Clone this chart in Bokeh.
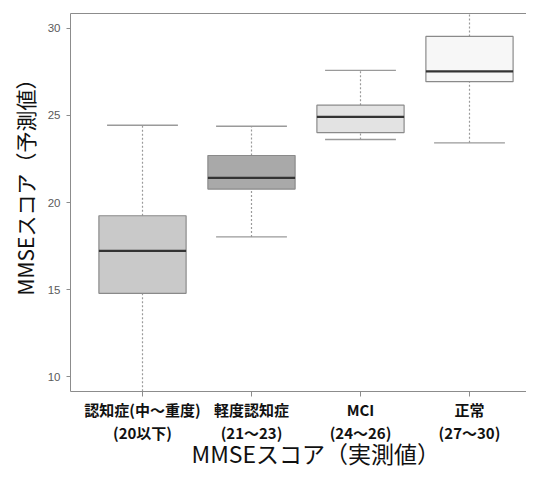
from bokeh.plotting import figure
from bokeh.models import (ColumnDataSource, Range1d, FixedTicker, LinearAxis, Title)
from bokeh.embed import file_html
from bokeh.resources import INLINE

# ---- data ----
categories = ["認知症(中～重度)", "軽度認知症", "MCI", "正常"]
score_ranges = ["(20以下)", "(21～23)", "(24～26)", "(27～30)"]
whisker_low = [8.0, 18.02, 23.62, 23.43]
q1 = [14.78, 20.77, 24.02, 26.94]
median = [17.22, 21.42, 24.92, 27.54]
q3 = [19.24, 22.70, 25.59, 29.54]
whisker_high = [24.44, 24.38, 27.59, 31.5]
box_colors = ["#c9c9c9", "#a9a9a9", "#e3e3e3", "#f7f7f7"]
y_ticks = [10, 15, 20, 25, 30]

xpos = list(range(1, len(categories) + 1))
box_w = 0.8
cap_w = 0.65

src = ColumnDataSource(dict(
    x=xpos,
    x0=[x - box_w / 2 for x in xpos], x1=[x + box_w / 2 for x in xpos],
    c0=[x - cap_w / 2 for x in xpos], c1=[x + cap_w / 2 for x in xpos],
    lo=whisker_low, q1=q1, med=median, q3=q3, hi=whisker_high, color=box_colors,
))

p = figure(width=526, height=470,
           x_range=Range1d(0.3394, 4.523), y_range=Range1d(9.14, 30.86),
           output_backend="svg", toolbar_location=None,
           x_axis_location=None, y_axis_location=None,
           min_border_left=70, min_border_right=0, min_border_top=13, min_border_bottom=79)
p.outline_line_color = None
p.grid.visible = False
p.background_fill_color = "white"
p.border_fill_color = "white"

axis_gray = "#8c8c8c"
cjk = "Noto Sans CJK JP"

# whiskers (dotted)
p.segment(x0="x", x1="x", y0="lo", y1="q1", source=src, line_color="#9a9a9a",
          line_width=1.2, line_dash="2 2")
p.segment(x0="x", x1="x", y0="q3", y1="hi", source=src, line_color="#9a9a9a",
          line_width=1.2, line_dash="2 2")
# caps
p.segment(x0="c0", x1="c1", y0="lo", y1="lo", source=src, line_color="#9a9a9a", line_width=1.3)
p.segment(x0="c0", x1="c1", y0="hi", y1="hi", source=src, line_color="#9a9a9a", line_width=1.3)
# boxes
p.vbar(x="x", width=box_w, bottom="q1", top="q3", source=src, fill_color="color",
       line_color="#8a8a8a", line_width=1.2)
# medians
p.segment(x0="x0", x1="x1", y0="med", y1="med", source=src, line_color="#333333", line_width=2.2)

# left axis
yax = LinearAxis(ticker=FixedTicker(ticks=y_ticks))
yax.axis_line_color = axis_gray
yax.major_tick_line_color = axis_gray
yax.major_tick_out = 4
yax.major_tick_in = 0
yax.minor_tick_line_color = None
yax.minor_tick_out = 0
yax.major_label_text_font = "Liberation Sans"
yax.major_label_text_font_size = "11.5px"
yax.major_label_text_color = "#5a5a5a"
yax.major_label_standoff = 6
p.add_layout(yax, "left")

# top line
tax = LinearAxis(ticker=FixedTicker(ticks=[]))
tax.axis_line_color = axis_gray
tax.major_tick_line_color = None
tax.minor_tick_line_color = None
tax.major_tick_out = 0
tax.minor_tick_out = 0
tax.major_label_text_font_size = "0px"
tax.major_label_standoff = 0
p.add_layout(tax, "above")

# bottom axis: line 1
xax = LinearAxis(ticker=FixedTicker(ticks=xpos))
xax.major_label_overrides = {x: c for x, c in zip(xpos, categories)}
xax.axis_line_color = axis_gray
xax.major_tick_line_color = axis_gray
xax.major_tick_out = 5
xax.major_tick_in = 0
xax.minor_tick_line_color = None
xax.minor_tick_out = 0
xax.major_label_text_font = cjk
xax.major_label_text_font_style = "bold"
xax.major_label_text_font_size = "15px"
xax.major_label_text_color = "#111111"
xax.major_label_standoff = 2
p.add_layout(xax, "below")

# bottom axis: line 2
xax2 = LinearAxis(ticker=FixedTicker(ticks=xpos))
xax2.major_label_overrides = {x: r for x, r in zip(xpos, score_ranges)}
xax2.axis_line_color = None
xax2.major_tick_line_color = None
xax2.minor_tick_line_color = None
xax2.major_tick_out = 0
xax2.major_tick_in = 0
xax2.minor_tick_out = 0
xax2.major_label_text_font = cjk
xax2.major_label_text_font_style = "bold"
xax2.major_label_text_font_size = "15px"
xax2.major_label_text_color = "#111111"
xax2.major_label_standoff = -1
p.add_layout(xax2, "below")

xt = Title(text="MMSEスコア（実測値）", align="left", offset=121,
           text_font=cjk, text_font_size="23px",
           text_font_style="normal", text_color="#111111", standoff=-24)
p.add_layout(xt, "below")

yt = Title(text="MMSEスコア（予測値）", align="left", offset=96,
           text_font=cjk, text_font_size="21px",
           text_font_style="normal", text_color="#111111", standoff=10)
p.add_layout(yt, "left")

open("out.html", "w").write(file_html(p, INLINE))
